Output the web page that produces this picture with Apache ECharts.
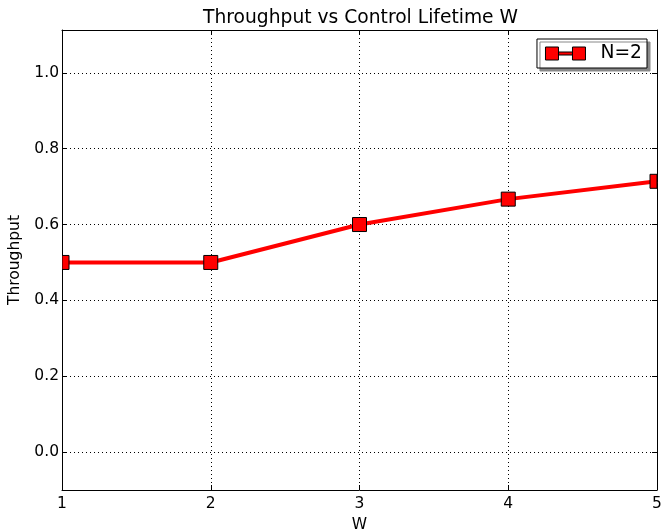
<!DOCTYPE html>
<html><head><meta charset="utf-8">
<script src="https://cdn.jsdelivr.net/npm/echarts@6/dist/echarts.min.js"></script>
<style>html,body{margin:0;padding:0;background:#fff}#c{width:664px;height:531px}</style>
</head><body><div id="c"></div>
<script>
const wValues = [1, 2, 3, 4, 5];
const throughput = [0.5, 0.5, 0.6, 0.667, 0.714];
const yTicks = [0.0, 0.2, 0.4, 0.6, 0.8, 1.0];
const xTicks = [1, 2, 3, 4, 5];
const seriesName = 'N=2';

const pts = wValues.map((w, i) => [w, throughput[i]]);
const F = "'DejaVu Sans', sans-serif";
const chart = echarts.init(document.getElementById('c'));
const tickStyle = {show: true, inside: true, length: 5, lineStyle: {color: '#000', width: 1}};
const grid = {left: 62, right: 7, top: 30, bottom: 41, containLabel: false, outerBoundsMode: 'none'};
chart.setOption({
  animation: false,
  title: {text: 'Throughput vs Control Lifetime W', left: 198, top: 4,
    textStyle: {fontFamily: F, fontSize: 18.7, fontWeight: 'normal', color: '#000'}},
  grid: grid,
  legend: {
    data: [{name: seriesName, icon: 'path://M0,0h13v13h-13z M27,0h13v13h-13z M13,5h14v3h-14z'}],
    right: 17, top: 39, padding: [5, 5, 5, 8], itemWidth: 40, itemHeight: 13,
    backgroundColor: '#fff', borderColor: '#000', borderWidth: 1, borderRadius: 0,
    shadowColor: '#888', shadowBlur: 0, shadowOffsetX: 3, shadowOffsetY: 3,
    itemStyle: {color: '#ff0000', borderColor: '#000', borderWidth: 1},
    textStyle: {fontFamily: F, fontSize: 18.7, color: '#000', padding: [0, 0, 0, 10]}
  },
  xAxis: [{
    type: 'value', min: 1, max: 5, interval: 1, position: 'bottom',
    name: 'W', nameLocation: 'middle', nameGap: 20,
    nameTextStyle: {fontFamily: F, fontSize: 15.5, color: '#000'},
    axisLine: {show: true, onZero: false, lineStyle: {color: '#000', width: 1}},
    axisTick: tickStyle,
    axisLabel: {fontFamily: F, fontSize: 15.5, color: '#000', margin: 6,
      customValues: xTicks, formatter: v => String(v)},
    splitLine: {show: true, lineStyle: {color: '#000', type: [1, 3], width: 1}}
  }, {
    type: 'value', min: 1, max: 5, interval: 1, position: 'top',
    axisLine: {show: true, onZero: false, lineStyle: {color: '#000', width: 1}},
    axisTick: tickStyle, axisLabel: {show: false}, splitLine: {show: false}
  }],
  yAxis: [{
    type: 'value', min: -0.1, max: 1.113, position: 'left',
    name: 'Throughput', nameLocation: 'middle', nameGap: 33,
    nameTextStyle: {fontFamily: F, fontSize: 15.5, color: '#000'},
    axisLine: {show: true, onZero: false, lineStyle: {color: '#000', width: 1}},
    axisTick: Object.assign({}, tickStyle, {customValues: yTicks}),
    axisLabel: {fontFamily: F, fontSize: 15.5, color: '#000', margin: 3,
      customValues: yTicks, formatter: v => v.toFixed(1)},
    splitLine: {show: true, lineStyle: {color: '#000', type: [1, 3], width: 1}}
  }, {
    type: 'value', min: -0.1, max: 1.113, position: 'right',
    axisLine: {show: true, onZero: false, lineStyle: {color: '#000', width: 1}},
    axisTick: Object.assign({}, tickStyle, {customValues: yTicks}),
    axisLabel: {show: false, customValues: yTicks}, splitLine: {show: false}
  }],
  series: [{
    name: seriesName, type: 'line', data: pts, showSymbol: false, symbol: 'none',
    clip: true, lineStyle: {color: '#ff0000', width: 4}, itemStyle: {color: '#ff0000'}, z: 3
  }, {
    name: 'markers', type: 'custom', data: pts, clip: true, z: 4,
    renderItem: function (params, api) {
      const p = api.coord([api.value(0), api.value(1)]);
      const cs = params.coordSys;
      const x0 = Math.max(p[0] - 7, cs.x), x1 = Math.min(p[0] + 7, cs.x + cs.width);
      const y0 = Math.max(p[1] - 7, cs.y), y1 = Math.min(p[1] + 7, cs.y + cs.height);
      return {type: 'rect', shape: {x: x0, y: y0, width: x1 - x0, height: y1 - y0},
        style: {fill: '#ff0000', stroke: '#000', lineWidth: 1}};
    }
  }]
});
</script></body></html>
